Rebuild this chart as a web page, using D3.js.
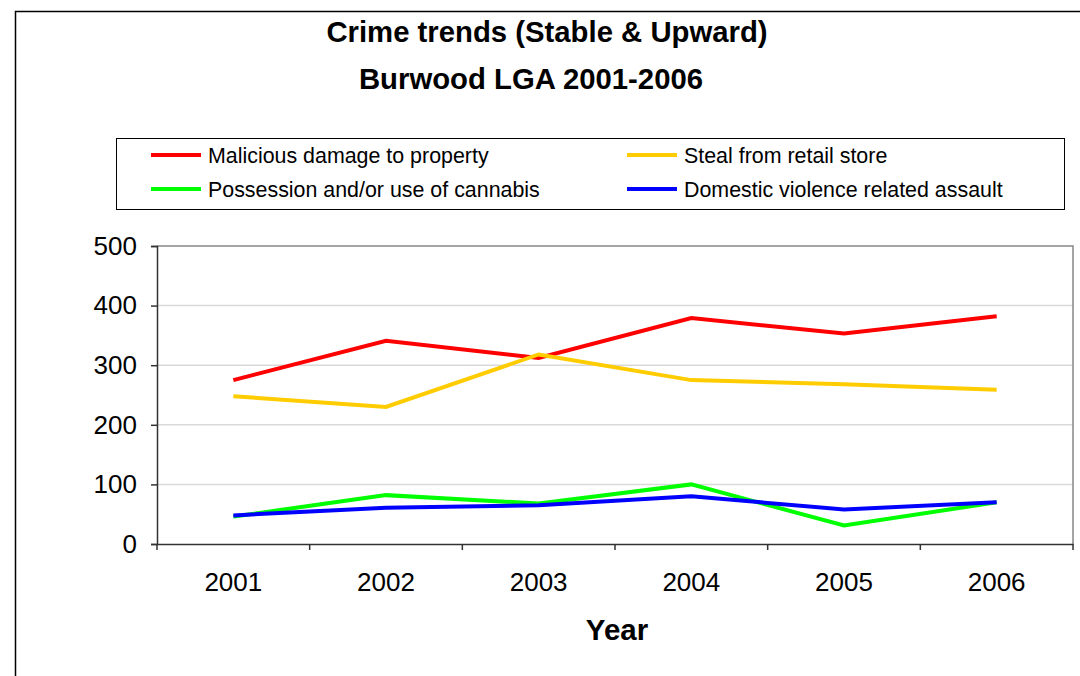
<!DOCTYPE html>
<html><head><meta charset="utf-8">
<script src="https://cdn.jsdelivr.net/npm/d3@7"></script>
<style>body{margin:0;background:#fff}svg{display:block;font-family:"Liberation Sans",Arial,sans-serif}</style>
</head><body><svg id="c" width="1080" height="676"></svg>
<script>
const years = ["2001","2002","2003","2004","2005","2006"];
const yTicks = [0,100,200,300,400,500];
const seriesNames = ["Malicious damage to property","Steal from retail store","Possession and/or use of cannabis","Domestic violence related assault"];
const seriesColors = ["#FF0000","#FFCC00","#00FF00","#0000FF"];
const malicious = [275,341,312,379,353,382];
const retail = [248,230,318,275,268,259];
const cannabis = [46,82,68,100,31,70];
const domestic = [48,61,65,80,58,70];
const values = [malicious, retail, cannabis, domestic];
const FF = "'Liberation Sans',Arial,sans-serif";

const svg = d3.select("#c");
svg.append("rect").attr("x",15.5).attr("y",11.5).attr("width",1100).attr("height",700)
  .attr("fill","none").attr("stroke","#000").attr("stroke-width",1.5);

svg.append("text").attr("x",547).attr("y",42).attr("text-anchor","middle")
  .attr("font-size",29.3).attr("font-weight","bold").text("Crime trends (Stable & Upward)");
svg.append("text").attr("x",531).attr("y",89).attr("text-anchor","middle")
  .attr("font-size",29.3).attr("font-weight","bold").text("Burwood LGA 2001-2006");

const L=157, R=1073, T=246, B=544;
const x = d3.scaleBand().domain(years).range([L,R]);
const y = d3.scaleLinear().domain([0,500]).range([B,T]);

svg.append("g").selectAll("line").data(yTicks.filter(t=>t>0&&t<500)).join("line")
  .attr("x1",L).attr("x2",R).attr("y1",d=>y(d)).attr("y2",d=>y(d))
  .attr("stroke","#d9d9d9").attr("stroke-width",1.5);
svg.append("path").attr("d",`M${L},${T}H${R}V${B}`).attr("fill","none").attr("stroke","#888").attr("stroke-width",1.5);

const ya = svg.append("g").attr("transform",`translate(${L},0)`)
  .call(d3.axisLeft(y).tickValues(yTicks).tickSize(6).tickPadding(14));
ya.select(".domain").attr("stroke","#333").attr("stroke-width",1.5);
ya.selectAll(".tick line").attr("stroke","#333").attr("stroke-width",1.5);
ya.selectAll("text").attr("font-size",26).attr("fill","#000").attr("font-family",FF);

const xa = svg.append("g").attr("transform",`translate(0,${B})`)
  .call(d3.axisBottom(x).tickSize(0).tickPadding(29));
xa.select(".domain").attr("stroke","#333").attr("stroke-width",1.5);
xa.selectAll("text").attr("font-size",26).attr("fill","#000").attr("font-family",FF);
const bounds = years.map(d=>x(d)).concat([x(years[years.length-1])+x.bandwidth()]);
svg.append("g").selectAll("line").data(bounds).join("line")
  .attr("x1",d=>d).attr("x2",d=>d).attr("y1",B).attr("y2",B+6)
  .attr("stroke","#333").attr("stroke-width",1.5);

svg.append("text").attr("x",617).attr("y",640).attr("text-anchor","middle")
  .attr("font-size",29.5).attr("font-weight","bold").text("Year");

const line = d3.line().x((d,i)=>x(years[i])+x.bandwidth()/2).y(d=>y(d));
values.forEach((v,i)=>{
  svg.append("path").datum(v).attr("d",line).attr("fill","none")
    .attr("stroke",seriesColors[i]).attr("stroke-width",4).attr("stroke-linejoin","miter");
});

svg.append("rect").attr("x",116.5).attr("y",138.5).attr("width",948).attr("height",71)
  .attr("fill","#fff").attr("stroke","#000").attr("stroke-width",1);
const legPos = [[151,155],[627,155],[151,189],[627,189]];
seriesNames.forEach((n,i)=>{
  const [lx,ly]=legPos[i];
  svg.append("line").attr("x1",lx).attr("x2",lx+50).attr("y1",ly).attr("y2",ly)
    .attr("stroke",seriesColors[i]).attr("stroke-width",4);
  svg.append("text").attr("x",lx+57).attr("y",ly+8).attr("font-size",21.4).text(n);
});
</script></body></html>
